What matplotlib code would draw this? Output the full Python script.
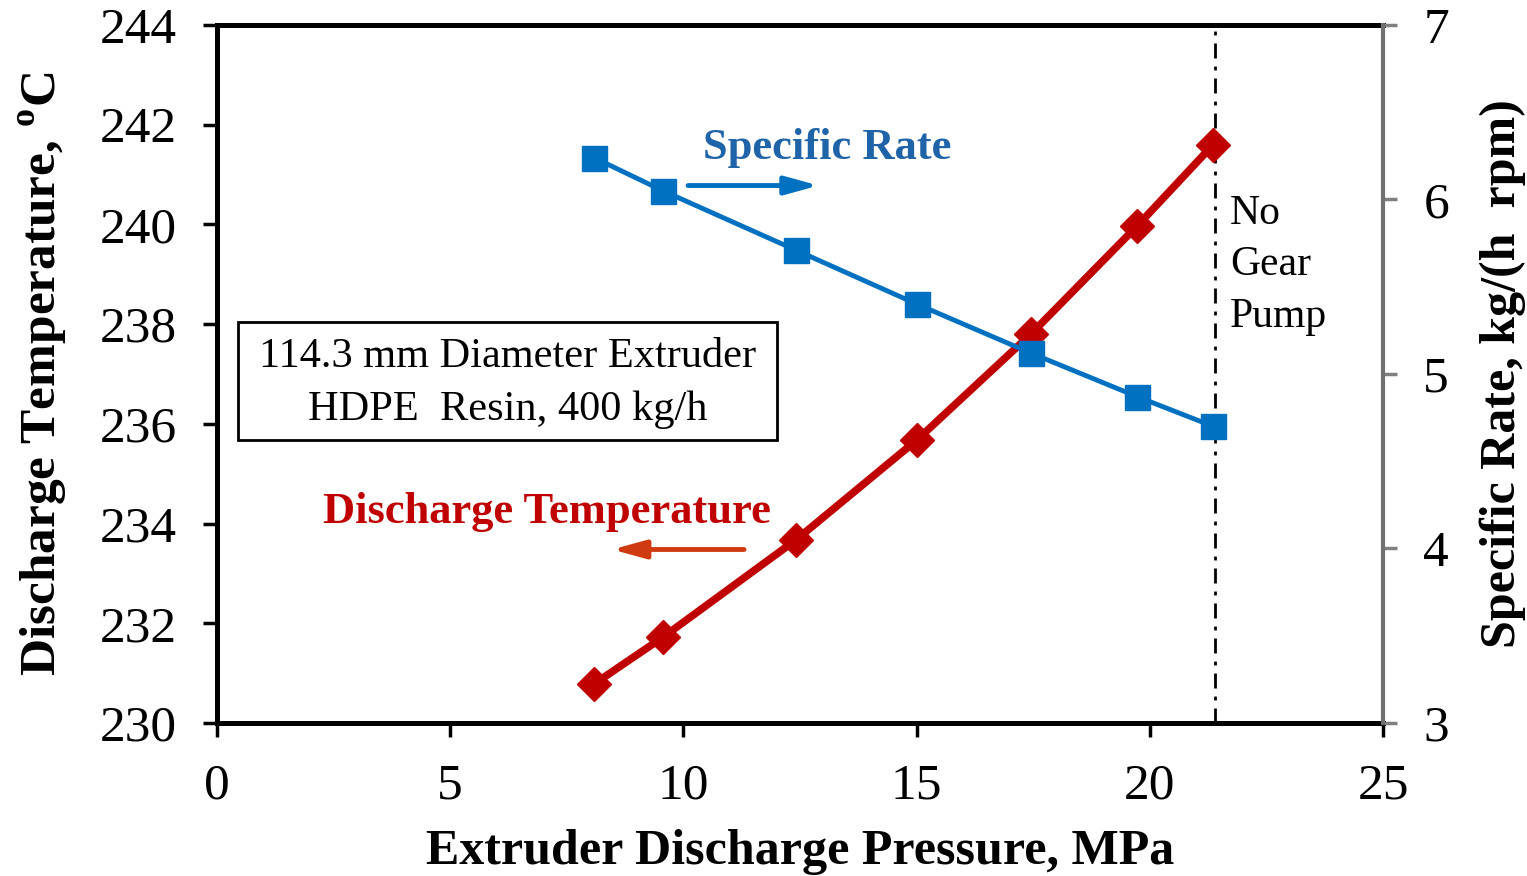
#!/usr/bin/env python3
"""
Discharge temperature and specific rate vs extruder discharge pressure
"""

import matplotlib.pyplot as plt
from matplotlib.patches import Rectangle

plt.rcParams['font.family'] = ['Liberation Serif', 'DejaVu Serif']
plt.rcParams['mathtext.fontset'] = 'custom'
plt.rcParams['mathtext.rm'] = 'Liberation Serif'
plt.rcParams['mathtext.bf'] = 'Liberation Serif:bold'

# data
pressure = [8.08, 9.56, 12.41, 15.01, 17.45, 19.73, 21.36]
discharge_temp = [230.78, 231.72, 233.67, 235.68, 237.80, 239.97, 241.60]
specific_rate = [6.24, 6.05, 5.71, 5.40, 5.12, 4.87, 4.70]

no_pump_pressure = 21.4

x_ticks = [0, 5, 10, 15, 20, 25]
temp_ticks = [230, 232, 234, 236, 238, 240, 242, 244]
rate_ticks = [3, 4, 5, 6, 7]

RED = '#C00000'
BLUE = '#0070C0'


def main():
    fig = plt.figure(figsize=(15.27, 8.76), dpi=100)
    ax = fig.add_axes([217 / 1527, 1 - 723 / 876, 1166 / 1527, 698 / 876])
    ax2 = ax.twinx()

    # discharge temperature (left axis)
    ax.plot(pressure, discharge_temp, color=RED, lw=5.5, marker='D',
            markersize=17, solid_joinstyle='round', zorder=3)
    ax.axvline(no_pump_pressure, color='black', lw=2,
               linestyle=(0, (5.4, 2.9, 1.4, 2.9)), zorder=2)

    # specific rate (right axis)
    ax2.plot(pressure, specific_rate, color=BLUE, lw=3.5, marker='s',
             markersize=18, zorder=3)

    ax.set_xlim(0, 25)
    ax.set_ylim(230, 244)
    ax2.set_ylim(3, 7)
    ax.set_xticks(x_ticks)
    ax.set_yticks(temp_ticks)
    ax2.set_yticks(rate_ticks)

    ax.tick_params(axis='both', direction='out', length=10, width=2.5,
                   labelsize=37, pad=19, colors='black')
    ax2.tick_params(axis='y', direction='out', length=10, width=2.5,
                    labelsize=37, pad=19, color='#808080', labelcolor='black')

    for side in ['left', 'bottom', 'top']:
        ax.spines[side].set_linewidth(3.6)
        ax.spines[side].set_color('black')
    ax.spines['right'].set_visible(False)
    for side in ['left', 'bottom', 'top']:
        ax2.spines[side].set_visible(False)
    ax2.spines['right'].set_linewidth(3)
    ax2.spines['right'].set_color('#707070')

    ax.set_xlabel('Extruder Discharge Pressure, MPa', fontsize=36,
                  fontweight='bold', labelpad=14)
    ax.set_ylabel(r'Discharge Temperature, $^{\mathbf{o}}$C', fontsize=37,
                  fontweight='bold', labelpad=22)
    ax2.set_ylabel('Specific Rate, kg/(h  rpm)', fontsize=36,
                   fontweight='bold', labelpad=22)

    # info box
    ax.add_patch(Rectangle((0.018, 0.405), 0.462, 0.169, transform=ax.transAxes,
                           fill=False, edgecolor='black', lw=2, zorder=4))
    ax.text(0.249, 0.524, '114.3 mm Diameter Extruder', transform=ax.transAxes,
            ha='center', va='center', fontsize=30.5)
    ax.text(0.249, 0.449, 'HDPE  Resin, 400 kg/h', transform=ax.transAxes,
            ha='center', va='center', fontsize=30.5)

    # series annotations
    arrow_style = '-|>,head_length=2.0,head_width=0.55'
    ax.text(13.08, 241.53, 'Specific Rate', color='#1F63A8', fontsize=32,
            fontweight='bold', ha='center', va='center')
    ax.annotate('', xy=(12.9, 240.78), xytext=(10.1, 240.78),
                arrowprops=dict(arrowstyle=arrow_style, color=BLUE, lw=3.5,
                                shrinkA=0, shrinkB=0))
    ax.text(7.08, 234.23, 'Discharge Temperature', color=RED, fontsize=32,
            fontweight='bold', ha='center', va='center')
    ax.annotate('', xy=(8.47, 233.48), xytext=(11.3, 233.48),
                arrowprops=dict(arrowstyle=arrow_style, color='#D03A10', lw=3.5,
                                shrinkA=0, shrinkB=0))

    for y_lab, txt in zip([240.21, 239.19, 238.14], ['No', 'Gear', 'Pump']):
        ax.text(21.72, y_lab, txt, fontsize=30, ha='left', va='center')

    fig.savefig('out.png', dpi=100)


if __name__ == '__main__':
    main()
